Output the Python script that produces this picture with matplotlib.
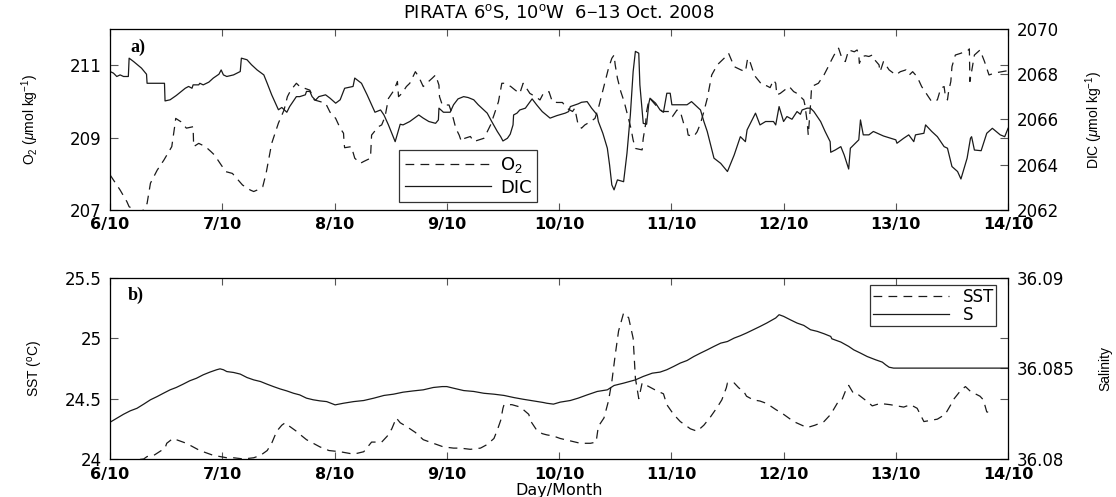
import matplotlib
matplotlib.use("Agg")
import matplotlib.pyplot as plt

# time axis: days since 6 Oct 2008 00:00
o2_day = [0.00, 0.09, 0.15, 0.17, 0.25, 0.29, 0.33, 0.36, 0.42, 0.48, 0.55, 0.58, 0.585, 0.63, 0.68,
          0.74, 0.745, 0.79, 0.85, 0.90, 0.93, 0.98, 1.03, 1.09, 1.14, 1.18, 1.25, 1.28, 1.31, 1.36,
          1.39, 1.44, 1.50, 1.55, 1.58, 1.61, 1.66, 1.69, 1.78, 1.82, 1.92, 1.96, 2.01, 2.05, 2.08,
          2.085, 2.09, 2.15, 2.18, 2.23, 2.26, 2.32, 2.33, 2.39, 2.42, 2.45, 2.48, 2.53, 2.56, 2.57,
          2.60, 2.64, 2.67, 2.72, 2.75, 2.79, 2.82, 2.87, 2.90, 2.93, 2.935, 2.96, 3.02, 3.05, 3.08,
          3.11, 3.13, 3.16, 3.21, 3.24, 3.28, 3.33, 3.36, 3.39, 3.42, 3.46, 3.49, 3.52, 3.57, 3.61,
          3.65, 3.68, 3.70, 3.74, 3.79, 3.83, 3.86, 3.91, 3.94, 3.98, 4.03, 4.07, 4.12, 4.14, 4.17,
          4.20, 4.23, 4.28, 4.32, 4.35, 4.38, 4.41, 4.44, 4.47, 4.49, 4.50, 4.52, 4.55, 4.58, 4.61,
          4.64, 4.66, 4.68, 4.74, 4.75, 4.77, 4.78, 4.80, 4.81, 4.86, 4.89, 4.92, 4.98, 5.01, 5.05,
          5.08, 5.11, 5.14, 5.15, 5.20, 5.23, 5.26, 5.29, 5.32, 5.36, 5.41, 5.47, 5.51, 5.56, 5.62,
          5.66, 5.68, 5.70, 5.73, 5.75, 5.81, 5.85, 5.88, 5.91, 5.93, 5.94, 5.97, 6.05, 6.09, 6.12,
          6.18, 6.19, 6.21, 6.22, 6.24, 6.25, 6.31, 6.36, 6.39, 6.42, 6.45, 6.49, 6.52, 6.55, 6.58,
          6.63, 6.655, 6.67, 6.675, 6.70, 6.73, 6.76, 6.79, 6.80, 6.85, 6.86, 6.89, 6.94, 7.00, 7.04,
          7.09, 7.12, 7.15, 7.19, 7.23, 7.26, 7.29, 7.32, 7.37, 7.40, 7.43, 7.44, 7.46, 7.47, 7.49,
          7.50, 7.53, 7.58, 7.61, 7.64, 7.655, 7.66, 7.70, 7.75, 7.79, 7.83, 7.89, 8.00]
o2 = [207.97, 207.55, 207.23, 207.09, 206.95, 206.97, 207.18, 207.74, 208.10, 208.38, 208.75, 209.40,
      209.53, 209.44, 209.26, 209.30, 208.75, 208.84, 208.75, 208.61, 208.52, 208.29, 208.06, 208.01,
      207.83, 207.69, 207.55, 207.51, 207.55, 207.64, 208.01, 208.84, 209.40, 209.76, 210.13, 210.31,
      210.50, 210.41, 210.31, 210.04, 209.95, 209.70, 209.53, 209.26, 209.12, 208.84, 208.72, 208.75,
      208.43, 208.29, 208.34, 208.43, 209.07, 209.30, 209.35, 209.58, 210.08, 210.31, 210.55, 210.13,
      210.22, 210.41, 210.50, 210.82, 210.68, 210.41, 210.50, 210.64, 210.73, 210.45, 210.13, 209.90,
      209.90, 209.62, 209.26, 209.07, 208.89, 208.98, 209.03, 208.89, 208.93, 208.98, 209.16, 209.35,
      209.62, 209.99, 210.50, 210.50, 210.41, 210.31, 210.22, 210.50, 210.41, 210.22, 210.13, 210.04,
      210.22, 210.27, 209.99, 209.97, 209.97, 209.81, 209.72, 209.81, 209.35, 209.26, 209.35, 209.44,
      209.53, 209.81, 210.18, 210.55, 210.91, 211.19, 211.28, 211.01, 210.64, 210.27, 209.99, 209.62,
      209.26, 208.93, 208.70, 208.66, 208.98, 209.35, 209.72, 210.04, 210.08, 209.90, 209.81, 209.72,
      209.72, 209.58, 209.76, 209.72, 209.39, 209.26, 209.07, 209.03, 209.16, 209.39, 209.72, 210.08,
      210.73, 211.01, 211.19, 211.33, 210.96, 210.87, 210.82, 211.19, 211.10, 210.82, 210.68, 210.45,
      210.43, 210.38, 210.59, 210.50, 210.18, 210.22, 210.41, 210.27, 210.22, 210.04, 209.90, 209.44,
      209.07, 209.90, 210.41, 210.50, 210.73, 210.91, 211.10, 211.28, 211.47, 211.19, 211.10, 211.42,
      211.37, 211.42, 211.28, 211.05, 211.24, 211.26, 211.24, 211.28, 211.19, 211.01, 210.82, 211.10,
      210.87, 210.73, 210.82, 210.87, 210.73, 210.82, 210.68, 210.41, 210.27, 210.13, 209.99, 210.04,
      210.36, 210.41, 210.18, 210.04, 210.27, 210.55, 210.96, 211.28, 211.33, 211.37, 211.40, 211.45,
      210.55, 211.28, 211.42, 211.10, 210.73, 210.79, 210.85]

dic_day = [0.00, 0.03, 0.06, 0.09, 0.12, 0.163, 0.17, 0.21, 0.28, 0.325, 0.33, 0.485, 0.49, 0.535, 0.59,
           0.67, 0.70, 0.73, 0.74, 0.79, 0.80, 0.83, 0.88, 0.92, 0.97, 0.99, 1.01, 1.04, 1.10, 1.16,
           1.17, 1.22, 1.26, 1.31, 1.37, 1.40, 1.44, 1.48, 1.50, 1.53, 1.575, 1.60, 1.63, 1.66, 1.69,
           1.74, 1.75, 1.78, 1.80, 1.83, 1.86, 1.92, 1.96, 2.01, 2.05, 2.09, 2.165, 2.18, 2.24, 2.29,
           2.33, 2.36, 2.41, 2.44, 2.48, 2.54, 2.585, 2.61, 2.67, 2.75, 2.79, 2.84, 2.90, 2.925, 2.93,
           2.97, 3.03, 3.06, 3.10, 3.15, 3.19, 3.24, 3.28, 3.33, 3.36, 3.40, 3.45, 3.48, 3.50, 3.54,
           3.565, 3.59, 3.595, 3.625, 3.65, 3.70, 3.76, 3.80, 3.85, 3.92, 3.98, 4.055, 4.085, 4.10, 4.17,
           4.20, 4.25, 4.29, 4.34, 4.35, 4.39, 4.43, 4.45, 4.47, 4.49, 4.52, 4.575, 4.605, 4.635, 4.66,
           4.68, 4.71, 4.72, 4.75, 4.78, 4.80, 4.81, 4.86, 4.90, 4.93, 4.96, 4.99, 5.005, 5.14, 5.18,
           5.21, 5.26, 5.29, 5.32, 5.35, 5.38, 5.44, 5.50, 5.56, 5.615, 5.66, 5.675, 5.75, 5.79, 5.84,
           5.91, 5.93, 5.96, 6.00, 6.03, 6.075, 6.12, 6.15, 6.165, 6.21, 6.24, 6.27, 6.33, 6.37, 6.415,
           6.42, 6.46, 6.51, 6.54, 6.58, 6.595, 6.67, 6.685, 6.71, 6.76, 6.80, 6.89, 7.00, 7.01, 7.07,
           7.115, 7.16, 7.175, 7.25, 7.265, 7.32, 7.37, 7.43, 7.46, 7.50, 7.55, 7.58, 7.635, 7.665, 7.675,
           7.70, 7.76, 7.81, 7.86, 7.93, 7.97, 8.00]
dic = [2068.12, 2068.05, 2067.90, 2067.97, 2067.90, 2067.90, 2068.71, 2068.56, 2068.27, 2068.00, 2067.60,
       2067.60, 2066.82, 2066.87, 2067.06, 2067.38, 2067.46, 2067.38, 2067.53, 2067.53, 2067.60, 2067.53,
       2067.65, 2067.83, 2068.00, 2068.19, 2067.97, 2067.90, 2067.97, 2068.12, 2068.71, 2068.64, 2068.42,
       2068.19, 2067.97, 2067.60, 2067.09, 2066.65, 2066.43, 2066.53, 2066.32, 2066.57, 2066.79, 2067.01,
       2067.01, 2067.09, 2067.24, 2067.24, 2067.01, 2066.85, 2067.01, 2067.09, 2066.94, 2066.72, 2066.87,
       2067.38, 2067.46, 2067.83, 2067.60, 2067.09, 2066.65, 2066.32, 2066.42, 2066.20, 2065.76, 2065.02,
       2065.79, 2065.76, 2065.91, 2066.20, 2066.06, 2065.91, 2065.83, 2065.98, 2066.50, 2066.32, 2066.32,
       2066.65, 2066.91, 2067.01, 2066.97, 2066.87, 2066.65, 2066.42, 2066.28, 2065.91, 2065.47, 2065.24,
       2065.05, 2065.17, 2065.35, 2065.76, 2066.20, 2066.28, 2066.42, 2066.50, 2066.91, 2066.65, 2066.35,
       2066.06, 2066.17, 2066.28, 2066.35, 2066.57, 2066.69, 2066.76, 2066.79, 2066.50, 2066.20, 2065.91,
       2065.39, 2064.73, 2063.99, 2063.11, 2062.89, 2063.33, 2063.25, 2064.51, 2066.20, 2068.12, 2069.01,
       2068.93, 2067.53, 2065.83, 2065.79, 2066.72, 2066.94, 2066.72, 2066.42, 2066.32, 2067.16, 2067.16,
       2066.65, 2066.65, 2066.79, 2066.65, 2066.42, 2065.91, 2065.47, 2064.88, 2064.29, 2064.06, 2063.70,
       2064.43, 2065.24, 2065.02, 2065.54, 2066.28, 2065.76, 2065.91, 2065.91, 2065.76, 2066.57, 2065.91,
       2066.13, 2066.01, 2066.35, 2066.23, 2066.42, 2066.50, 2066.50, 2066.35, 2065.91, 2065.47, 2065.02,
       2064.55, 2064.65, 2064.80, 2064.43, 2063.81, 2064.73, 2065.10, 2065.98, 2065.32, 2065.32, 2065.47,
       2065.27, 2065.10, 2064.95, 2065.17, 2065.32, 2065.02, 2065.32, 2065.39, 2065.76, 2065.47, 2065.24,
       2064.80, 2064.73, 2063.92, 2063.70, 2063.37, 2064.29, 2065.17, 2065.24, 2064.65, 2064.62, 2065.39,
       2065.61, 2065.32, 2065.24, 2065.61]

sst_day = [0.00, 0.21, 0.30, 0.33, 0.39, 0.49, 0.505, 0.56, 0.62, 0.68, 0.76, 0.80, 0.86, 0.92, 0.98,
           1.04, 1.10, 1.19, 1.28, 1.34, 1.40, 1.44, 1.485, 1.53, 1.56, 1.60, 1.66, 1.71, 1.75, 1.81,
           1.87, 1.95, 2.05, 2.17, 2.26, 2.33, 2.42, 2.47, 2.51, 2.55, 2.585, 2.64, 2.72, 2.79, 2.88,
           2.97, 3.06, 3.12, 3.21, 3.30, 3.36, 3.42, 3.45, 3.48, 3.50, 3.51, 3.58, 3.655, 3.73, 3.75,
           3.80, 3.85, 3.89, 3.95, 4.01, 4.10, 4.19, 4.28, 4.33, 4.35, 4.40, 4.44, 4.47, 4.50, 4.53,
           4.575, 4.62, 4.66, 4.67, 4.68, 4.70, 4.71, 4.74, 4.78, 4.86, 4.93, 4.96, 5.02, 5.08, 5.17,
           5.23, 5.29, 5.35, 5.41, 5.45, 5.49, 5.50, 5.56, 5.60, 5.645, 5.67, 5.73, 5.79, 5.85, 5.93,
           6.00, 6.09, 6.21, 6.28, 6.36, 6.42, 6.49, 6.52, 6.55, 6.58, 6.625, 6.67, 6.74, 6.79, 6.86,
           6.95, 7.01, 7.07, 7.13, 7.19, 7.25, 7.31, 7.37, 7.44, 7.49, 7.52, 7.58, 7.62, 7.665, 7.75,
           7.78, 7.81, 7.87]
sst = [23.99, 23.99, 24.00, 24.02, 24.03, 24.09, 24.13, 24.17, 24.15, 24.13, 24.09, 24.07, 24.05, 24.03,
       24.02, 24.01, 24.01, 24.00, 24.01, 24.03, 24.07, 24.13, 24.23, 24.28, 24.30, 24.27, 24.23, 24.19,
       24.16, 24.13, 24.10, 24.07, 24.06, 24.04, 24.06, 24.14, 24.14, 24.19, 24.25, 24.34, 24.30, 24.27,
       24.22, 24.16, 24.13, 24.10, 24.09, 24.09, 24.08, 24.09, 24.12, 24.17, 24.24, 24.32, 24.42, 24.45,
       24.45, 24.43, 24.37, 24.31, 24.24, 24.21, 24.20, 24.19, 24.17, 24.15, 24.13, 24.13, 24.14, 24.27,
       24.34, 24.48, 24.64, 24.86, 25.06, 25.21, 25.17, 25.00, 24.84, 24.67, 24.56, 24.50, 24.63, 24.61,
       24.57, 24.54, 24.45, 24.37, 24.31, 24.25, 24.23, 24.28, 24.35, 24.43, 24.49, 24.59, 24.63, 24.63,
       24.59, 24.56, 24.52, 24.49, 24.48, 24.46, 24.41, 24.37, 24.31, 24.26, 24.28, 24.31, 24.37, 24.48,
       24.49, 24.56, 24.61, 24.54, 24.53, 24.48, 24.44, 24.46, 24.45, 24.44, 24.43, 24.45, 24.42, 24.31,
       24.32, 24.33, 24.37, 24.45, 24.50, 24.57, 24.60, 24.56, 24.52, 24.49, 24.39, 24.38]

sal_day = [0.00, 0.06, 0.12, 0.18, 0.24, 0.30, 0.36, 0.42, 0.475, 0.535, 0.59, 0.65, 0.71, 0.77, 0.83,
           0.89, 0.95, 0.98, 1.01, 1.04, 1.10, 1.16, 1.22, 1.28, 1.34, 1.40, 1.46, 1.515, 1.575, 1.635,
           1.69, 1.75, 1.81, 1.87, 1.93, 2.005, 2.08, 2.17, 2.26, 2.35, 2.44, 2.525, 2.61, 2.70, 2.79,
           2.88, 2.96, 3.00, 3.06, 3.15, 3.24, 3.33, 3.42, 3.51, 3.60, 3.68, 3.77, 3.86, 3.89, 3.95,
           4.01, 4.10, 4.17, 4.25, 4.34, 4.43, 4.49, 4.575, 4.68, 4.75, 4.83, 4.90, 4.96, 5.02, 5.08,
           5.14, 5.20, 5.26, 5.32, 5.38, 5.44, 5.50, 5.56, 5.615, 5.67, 5.73, 5.79, 5.85, 5.93, 5.96,
           6.00, 6.06, 6.12, 6.18, 6.24, 6.30, 6.36, 6.42, 6.43, 6.51, 6.58, 6.625, 6.685, 6.745, 6.82,
           6.88, 6.91, 6.94, 6.98, 7.04, 8.00]
sal = [36.08203, 36.08225, 36.08247, 36.08266, 36.08280, 36.08303, 36.08327, 36.08345, 36.08363,
       36.08382, 36.08395, 36.08413, 36.08432, 36.08446, 36.08465, 36.08480, 36.08493, 36.08498,
       36.08493, 36.08483, 36.08478, 36.08469, 36.08450, 36.08437, 36.08428, 36.08413, 36.08399,
       36.08387, 36.08376, 36.08363, 36.08354, 36.08336, 36.08327, 36.08321, 36.08317, 36.08299,
       36.08308, 36.08317, 36.08323, 36.08336, 36.08351, 36.08358, 36.08369, 36.08376, 36.08382,
       36.08395, 36.08400, 36.08400, 36.08391, 36.08378, 36.08373, 36.08363, 36.08358, 36.08351,
       36.08339, 36.08330, 36.08321, 36.08312, 36.08308, 36.08303, 36.08314, 36.08323, 36.08336,
       36.08354, 36.08373, 36.08382, 36.08406, 36.08419, 36.08437, 36.08456, 36.08474, 36.08480,
       36.08493, 36.08511, 36.08530, 36.08544, 36.08566, 36.08585, 36.08603, 36.08622, 36.08640,
       36.08649, 36.08668, 36.08681, 36.08696, 36.08714, 36.08732, 36.08751, 36.08779, 36.08797,
       36.08788, 36.08769, 36.08751, 36.08738, 36.08714, 36.08705, 36.08692, 36.08677, 36.08664,
       36.08646, 36.08622, 36.08603, 36.08585, 36.08566, 36.08548, 36.08535, 36.08520, 36.08507,
       36.08502, 36.08502, 36.08502]

day_ticks = [0, 1, 2, 3, 4, 5, 6, 7, 8]
day_labels = ["6/10", "7/10", "8/10", "9/10", "10/10", "11/10", "12/10", "13/10", "14/10"]

plt.rcParams["mathtext.fontset"] = "custom"
plt.rcParams["mathtext.rm"] = "Liberation Sans"
plt.rcParams["mathtext.it"] = "Liberation Sans:italic"
plt.rcParams["mathtext.bf"] = "Liberation Sans:bold"

line_col = "#1a1a1a"
frame_col = "#555555"
dash = (7, 5)
lab_font = dict(fontsize=10, family="Liberation Sans")


def style_axes(ax, twin, xpad):
    for s in ax.spines.values():
        s.set_color(frame_col)
        s.set_linewidth(0.9)
    ax.tick_params(axis="y", direction="in", length=6, width=0.8, color=frame_col,
                   labelsize=12, pad=6)
    twin.tick_params(axis="y", direction="in", length=6, width=0.8, color=frame_col,
                     labelsize=12, pad=6)
    ax.tick_params(axis="y", right=True)
    ax.tick_params(axis="x", direction="in", length=5, width=0.8, color=frame_col,
                   top=True, labelsize=11.5, pad=xpad)
    ax.set_xlim(0, 8)
    ax.set_xticks(day_ticks)
    ax.set_xticklabels(day_labels, fontweight="bold")
    twin.set_zorder(ax.get_zorder() + 1)


fig = plt.figure(figsize=(11.16, 4.97), dpi=100)

# ---- a) O2 and DIC
ax1 = fig.add_axes([0.0986, 0.5775, 0.8047, 0.3642])
ax2 = ax1.twinx()
l1, = ax1.plot(o2_day, o2, color=line_col, lw=0.9, dashes=dash)
l2, = ax2.plot(dic_day, dic, color=line_col, lw=0.9)
ax1.set_ylim(207, 212)
ax1.set_yticks([207, 209, 211])
ax2.set_ylim(2062, 2070)
ax2.set_yticks([2062, 2064, 2066, 2068, 2070])
style_axes(ax1, ax2, 5)
ax1.set_ylabel("O$_2$ ($\\mu$mol kg$^{-1}$)", **lab_font)
ax1.yaxis.set_label_coords(-0.077, 0.5)
ax2.set_ylabel("DIC ($\\mu$mol kg$^{-1}$)", **lab_font)
ax2.yaxis.set_label_coords(1.084, 0.5)
ax1.text(0.023, 0.9, "a)", transform=ax1.transAxes, fontsize=13, fontweight="bold",
         family="Liberation Serif", va="center", ha="left")
leg = ax2.legend([l1, l2], ["O$_2$", "DIC"], loc="lower left", bbox_to_anchor=(0.322, 0.044),
                 fontsize=13, handlelength=4.8, handletextpad=0.5, borderpad=0.3,
                 labelspacing=0.2, fancybox=False, framealpha=1, borderaxespad=0)
leg.get_frame().set_edgecolor("#333333")
leg.get_frame().set_linewidth(0.9)

fig.text(0.501, 0.975, "PIRATA 6$^{\\rm o}$S, 10$^{\\rm o}$W  6$-$13 Oct. 2008",
         ha="center", va="center", fontsize=13)

# ---- b) SST and salinity
ax3 = fig.add_axes([0.0986, 0.0765, 0.8047, 0.3642])
ax4 = ax3.twinx()
l3, = ax3.plot(sst_day, sst, color=line_col, lw=0.9, dashes=dash)
l4, = ax4.plot(sal_day, sal, color=line_col, lw=0.9)
ax3.set_ylim(24, 25.5)
ax3.set_yticks([24, 24.5, 25, 25.5])
ax3.set_yticklabels(["24", "24.5", "25", "25.5"])
ax4.set_ylim(36.08, 36.09)
ax4.set_yticks([36.08, 36.085, 36.09])
ax4.set_yticklabels(["36.08", "36.085", "36.09"])
style_axes(ax3, ax4, 6)
ax3.set_ylabel("SST ($^{\\rm o}$C)", **lab_font)
ax3.yaxis.set_label_coords(-0.072, 0.5)
ax4.set_ylabel("Salinity", **lab_font)
ax4.yaxis.set_label_coords(1.100, 0.5)
ax3.set_xlabel("Day/Month", fontsize=11.5, labelpad=0.5)
ax3.text(0.02, 0.903, "b)", transform=ax3.transAxes, fontsize=13, fontweight="bold",
         family="Liberation Serif", va="center", ha="left")
leg2 = ax4.legend([l3, l4], ["SST", "S"], loc="upper right", bbox_to_anchor=(0.987, 0.961),
                  fontsize=12, handlelength=4.6, handletextpad=0.8, borderpad=0.15,
                  labelspacing=0.0, fancybox=False, framealpha=1, borderaxespad=0)
leg2.get_frame().set_edgecolor("#333333")
leg2.get_frame().set_linewidth(0.9)

fig.savefig("out.png", dpi=100)
